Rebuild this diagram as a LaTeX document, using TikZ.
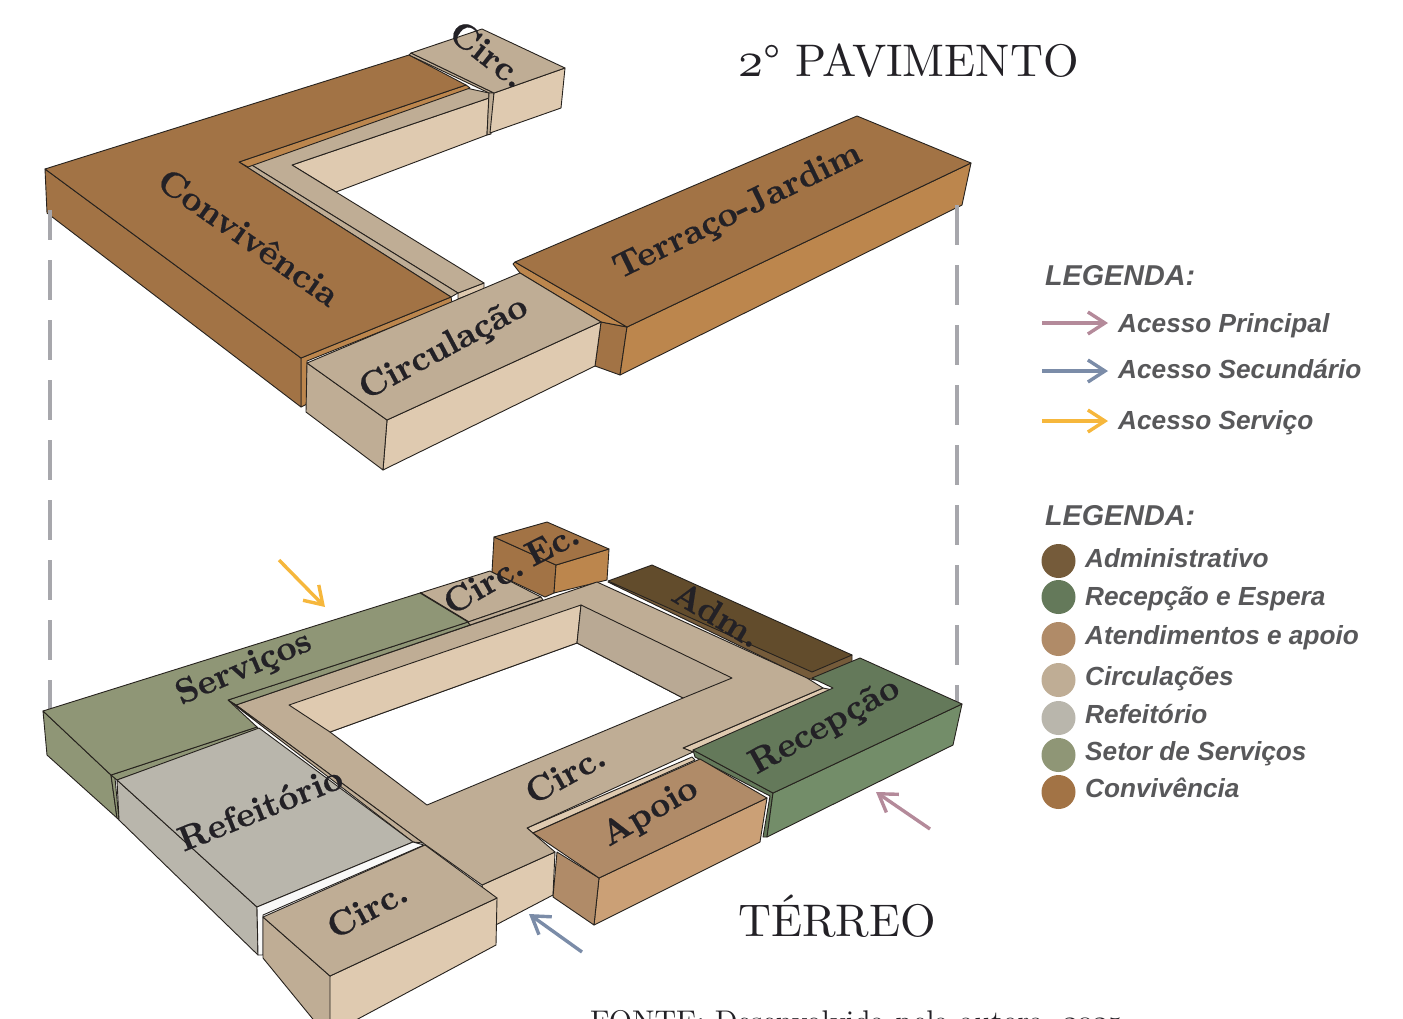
\documentclass[tikz,border=0pt]{standalone}
\usepackage{fontspec}
\usetikzlibrary{arrows.meta}
\newfontfamily\legfont{Liberation Sans}
\newfontfamily\lmten{lmroman10-regular.otf}
\newfontfamily\lmbold{lmroman10-bold.otf}[FakeBold=0.5]
\font\ofigA=cmmi10 at 50pt
\font\ofigB=cmmi10 at 30pt
\definecolor{edgec}{HTML}{26221E}
\definecolor{convT}{HTML}{A27345}
\definecolor{convF}{HTML}{BC864D}
\definecolor{circT}{HTML}{BFAD95}
\definecolor{circF}{HTML}{DFCAB0}
\definecolor{circD}{HTML}{B9A994}
\definecolor{admT}{HTML}{624C2C}
\definecolor{admL}{HTML}{755B3A}
\definecolor{recT}{HTML}{64795A}
\definecolor{recF}{HTML}{738D69}
\definecolor{apoT}{HTML}{B08B68}
\definecolor{apoF}{HTML}{CBA076}
\definecolor{refT}{HTML}{B9B6AC}
\definecolor{srvT}{HTML}{8F9676}
\definecolor{dashc}{HTML}{A7A7AC}
\definecolor{pinkc}{HTML}{B48A9A}
\definecolor{bluec}{HTML}{7B8CA8}
\definecolor{yelc}{HTML}{F6B73C}
\definecolor{legt}{HTML}{58585A}
\definecolor{labt}{HTML}{232126}
\tikzset{
 face/.style={fill=#1,draw=edgec,line width=.9pt,line join=round},
 guide/.style={draw=dashc,line width=3.6pt,dash pattern=on 40pt off 20pt},
 access/.style={draw=#1,line width=3.4pt,-{Straight Barb[length=17pt,width=22pt]}},
 lab/.style={font=\lmbold\fontsize{35}{40}\selectfont,text=labt,inner sep=0pt},
 ttl/.style={font=\lmten\fontsize{45.7}{52}\selectfont,text=labt,inner sep=0pt,anchor=base west},
 legh/.style={font=\legfont\fontsize{28.7}{32}\selectfont\bfseries\itshape,text=legt,inner sep=0pt,anchor=base west},
 legi/.style={font=\legfont\fontsize{26.2}{30}\selectfont\bfseries\itshape,text=legt,inner sep=0pt,anchor=base west},
 dot/.style={circle,minimum size=34pt,inner sep=0pt,fill=#1},
}
\begin{document}
\begin{tikzpicture}[x=1pt,y=-1pt]
\useasboundingbox (0,0) rectangle (1403,1018);
% ---------- upper floor ----------
\draw[face=circF] (292,165)--(489,98)--(487,135)--(336,192)--cycle;
\draw[face=circF] (458,293)--(484,283)--(484,289)--(458,299)--cycle;
\draw[face=circT] (250,164)--(466,88)--(489,93)--(489,98)--(292,165)--(484,283)--(458,293)--cycle;
\draw[face=circT] (239,162)--(250,164)--(458,293)--(451,297)--cycle;
\draw[face=convF] (239,162)--(466,85)--(470,88)--(248,167)--cycle;
\draw[face=convF] (301,358)--(451,297)--(452,303)--(307,361)--(307,404)--(301,407)--cycle;
\draw[face=convT] (45,169)--(301,358)--(301,407)--(47,213)--cycle;
\draw[face=convT] (45,169)--(409,55)--(466,85)--(239,162)--(451,297)--(301,358)--cycle;
\draw[face=circT] (409,55)--(411,53)--(494,93)--(489,93)--cycle;
\draw[face=circT] (489,93)--(494,93)--(491,134)--(487,135)--cycle;
\draw[face=circF] (565,68)--(561,108)--(490,133)--(494,93)--cycle;
\draw[face=circT] (411,53)--(482,29)--(565,68)--(494,93)--cycle;
% Terraco
\draw[face=convT] (601,322)--(627,327)--(620,375)--(595,366)--cycle;
\draw[face=convF] (971,163)--(962,205)--(620,375)--(627,327)--cycle;
\draw[face=convF] (513,264)--(515,262)--(627,327)--(601,322)--(520,273)--cycle;
\draw[face=convT] (515,262)--(857,116)--(971,163)--(627,327)--cycle;
% Circulacao
\draw[face=circF] (601,322)--(595,366)--(383,470)--(387,420)--cycle;
\draw[face=circT] (307,363)--(387,420)--(383,470)--(306,412)--cycle;
\draw[face=circT] (307,363)--(520,273)--(601,322)--(387,420)--cycle;
% guides
\coordinate (gl1) at (50,210); \coordinate (gl2) at (50,713);
\coordinate (gr1) at (957,205); \coordinate (gr2) at (957,707);
\draw[guide,dash phase=10pt] (gl1)--(gl2);
\draw[guide] (gr1)--(gr2);
% ---------- ground floor ----------
\draw[face=circT] (420,593)--(490,571)--(541,597)--(468,622)--cycle;
\draw[face=convT] (494,537)--(556,565)--(554,593)--(545,597)--(492,572)--cycle;
\draw[face=convF] (609,549)--(607,580)--(554,593)--(556,565)--cycle;
\draw[face=convT] (494,537)--(547,522)--(609,549)--(556,565)--cycle;
\draw[edgec,line width=2.2pt] (420,593)--(468,622);
% Adm
\draw[face=admL] (608,582)--(852,655)--(852,662)--(815,680)--(806,678)--cycle;
\draw[face=admT] (608,581)--(652,565)--(852,655)--(812,672)--cycle;
% ring
\draw[face=circF] (482,885)--(555,852)--(553,895)--(490,928)--cycle;
\draw[face=circF] (683,748)--(823,688)--(833,690)--(693,752)--cycle;
\draw[face=circF] (527,828)--(692,757)--(695,760)--(533,833)--cycle;
\draw[face=circT] (236,705)--(597,582)--(807,678)--(823,688)--(683,748)--(693,752)--(527,828)--(555,852)--(482,885)--(423,843)--cycle;
% hole
\draw[face=white] (330,732)--(577,643)--(683,698)--(427,805)--cycle;
\draw[face=circF] (289,705)--(581,605)--(577,643)--(330,732)--cycle;
\draw[face=circD] (581,605)--(732,678)--(683,698)--(577,643)--cycle;
% strips
\draw[face=srvT] (228,700)--(468,622)--(470,625)--(236,705)--cycle;
\draw[face=circT] (468,622)--(541,597)--(543,600)--(470,625)--cycle;
\draw[face=circT] (228,700)--(236,705)--(423,843)--(413,842)--cycle;
% Servicos
\draw[face=srvT] (43,711)--(111,775)--(117,818)--(47,755)--cycle;
\draw[face=srvT] (111,775)--(115,778)--(119,820)--(117,818)--cycle;
\draw[face=srvT] (111,775)--(257,727)--(259,730)--(117,780)--cycle;
\draw[face=srvT] (43,711)--(420,593)--(468,622)--(228,700)--(257,727)--(111,775)--cycle;
% Refeitorio
\draw[face=refT] (117,780)--(257,907)--(258,955)--(119,820)--cycle;
\draw[face=refT] (117,780)--(259,728)--(413,842)--(257,907)--cycle;
\draw[face=white!92!refT] (257,907)--(413,842)--(424,845)--(263,915)--(263,955)--(258,955)--cycle;
% Recepcao
\draw[face=recT] (693,750)--(773,793)--(767,837)--(763,837)--(770,796)--(695,757)--cycle;
\draw[face=recF] (962,704)--(953,745)--(767,837)--(773,793)--cycle;
\draw[face=recT] (693,750)--(833,688)--(812,678)--(860,658)--(962,704)--(773,793)--cycle;
% Apoio
\draw[face=apoF] (767,798)--(760,842)--(594,925)--(599,878)--cycle;
\draw[face=apoT] (557,852)--(599,878)--(594,925)--(553,897)--cycle;
\draw[face=apoT] (533,833)--(700,759)--(767,798)--(599,878)--cycle;
% Circ block
\draw[face=circF] (497,898)--(496,945)--(300,1050)--(330,976)--cycle;
\draw[face=circT] (263,917)--(330,976)--(330,1040)--(263,958)--cycle;
\draw[face=circT] (263,917)--(425,845)--(497,898)--(330,976)--cycle;
% ---------- labels ----------
\node[lab,rotate=-35] (lConv) at (249,237) {Convivência};
\node[lab,rotate=-38] (lCirc1) at (488,54) {Circ.};
\node[lab,rotate=28] (lCircu) at (444,349) {Circulação};
\node[lab,rotate=26] (lTerr) at (738,212) {Terraço-Jardim};
\node[lab,rotate=23] (lServ) at (244,669) {Serviços};
\node[lab,rotate=30] (lCirc2) at (483,584) {Circ.};
\node[lab,rotate=27] (lEc) at (552,544) {Ec.};
\node[lab,rotate=-31] (lAdm) at (717,614) {Adm.};
\node[lab,rotate=22] (lRef) at (260,808) {Refeitório};
\node[lab,rotate=29] (lCirc3) at (565,774) {Circ.};
\node[lab,rotate=29] (lRec) at (825,727) {Recepção};
\node[lab,rotate=30] (lApo) at (650,813) {Apoio};
\node[lab,rotate=28] (lCirc4) at (367,909) {Circ.};
% ---------- access arrows ----------
\coordinate (ayS) at (279,560); \coordinate (ayE) at (325,607);
\coordinate (abS) at (582,952); \coordinate (abE) at (529,914);
\coordinate (apS) at (930,829); \coordinate (apE) at (876,792);
\draw[access=yelc] (ayS)--(ayE);
\draw[access=bluec] (abS)--(abE);
\draw[access=pinkc] (apS)--(apE);
% ---------- titles ----------
\node[ttl] (t1) at (738,76) {{\ofigA 2}° PAVIMENTO};
\node[ttl] (t2) at (738,936) {TÉRREO};
\node[font=\lmten\fontsize{29.9}{36}\selectfont,text=labt,inner sep=0pt,anchor=base west] (fonte) at (590,1031) {FONTE: Desenvolvida pela autora, {\ofigB 2025}};
% ---------- legend 1 ----------
\node[legh] (h1) at (1045,285) {LEGENDA:};
\coordinate (k1a) at (1042,323); \coordinate (k1b) at (1108,323);
\coordinate (k2a) at (1042,371); \coordinate (k2b) at (1108,371);
\coordinate (k3a) at (1042,421); \coordinate (k3b) at (1108,421);
\draw[access=pinkc] (k1a)--(k1b);
\draw[access=bluec] (k2a)--(k2b);
\draw[access=yelc] (k3a)--(k3b);
\node[legi] (k1) at (1118,332) {Acesso Principal};
\node[legi] (k2) at (1118,378) {Acesso Secundário};
\node[legi] (k3) at (1118,429) {Acesso Serviço};
% ---------- legend 2 ----------
\node[legh] (h2) at (1045,525) {LEGENDA:};
\node[dot=admL] (d1) at (1058.5,561) {};
\node[dot=recT] (d2) at (1058.5,597) {};
\node[dot=apoT] (d3) at (1058.5,639) {};
\node[dot=circT] (d4) at (1058.5,680) {};
\node[dot=refT] (d5) at (1058.5,718) {};
\node[dot=srvT] (d6) at (1058.5,755) {};
\node[dot=convT] (d7) at (1058.5,792) {};
\node[legi] (i1) at (1085,567) {Administrativo};
\node[legi] (i2) at (1085,605) {Recepção e Espera};
\node[legi] (i3) at (1085,644) {Atendimentos e apoio};
\node[legi] (i4) at (1085,685) {Circulações};
\node[legi] (i5) at (1085,723) {Refeitório};
\node[legi] (i6) at (1085,760) {Setor de Serviços};
\node[legi] (i7) at (1085,797) {Convivência};
\end{tikzpicture}
\end{document}
